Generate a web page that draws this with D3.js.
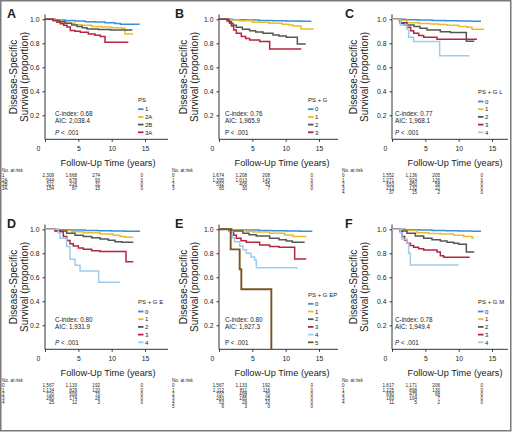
<!DOCTYPE html>
<html><head><meta charset="utf-8">
<script src="https://cdn.jsdelivr.net/npm/d3@7"></script>
<style>
body{margin:0;background:#fff}
svg{display:block}
text{font-family:"Liberation Sans",Arial,Helvetica,sans-serif;fill:#222}
</style>
</head><body>
<svg id="chart" width="514" height="433"></svg>
<script>
// ---------------- DATA ----------------
const panelLetters = ["A","B","C","D","E","F"];
const legendTitles = ["PS","PS + G","PS + G L","PS + G E","PS + G EP","PS + G M"];
const groupsA = ["1","2A","2B","3A"];
const groupsB = ["0","1","2","3"];
const groupsC = ["0","1","2","3","4"];
const groupsD = ["0","1","2","3","4"];
const groupsE = ["0","1","2","3","4","5"];
const groupsF = ["0","1","2","3","4"];
const cIndex = ["0.68","0.76","0.77","0.80","0.80","0.78"];
const aicValues = ["2,038.4","1,965.9","1,968.1","1,931.9","1,927.3","1,949.4"];
const xTicks = [0,5,10,15];
const yTicks = [0.2,0.4,0.6,0.8,1.0];
const riskTimes = [0,5,10,15];

const riskA = [[2309,1668,274,0],[944,678,93,0],[321,226,31,0],[154,87,15,0]];
const riskB = [[1674,1208,208,0],[1395,1013,143,0],[592,406,55,0],[65,30,7,0]];
const riskC = [[1552,1136,205,0],[1271,924,126,0],[653,450,58,0],[213,132,22,0],[37,15,2,0]];
const riskD = [[1567,1133,192,0],[1134,829,120,0],[720,509,70,0],[280,174,28,0],[25,12,3,0]];
const riskE = [[1567,1133,192,0],[1112,811,116,0],[707,498,70,0],[283,185,25,0],[53,29,10,0],[6,3,0,0]];
const riskF = [[1617,1171,206,0],[1225,898,130,0],[690,479,68,0],[183,104,7,0],[11,5,2,0]];

// survival curves: [years, proportion]
const curveA1  = [[0,1],[1.5,0.995],[3,0.99],[4.5,0.985],[6,0.98],[7.5,0.977],[9,0.972],[10.5,0.965],[11.3,0.958],[14.2,0.958]];
const curveA2A = [[0,1],[1.5,0.99],[2.5,0.98],[3.5,0.968],[4.5,0.955],[5.5,0.95],[7,0.94],[8.5,0.935],[10,0.93],[11.5,0.925],[12,0.878],[13.2,0.878]];
const curveA2B = [[0,1],[1.2,0.99],[2.2,0.98],[3,0.968],[4,0.952],[4.8,0.94],[5.6,0.93],[6.3,0.92],[8,0.915],[9.8,0.91],[13.1,0.91]];
const curveA3A = [[0,1],[1.2,0.99],[1.8,0.975],[2.3,0.962],[2.8,0.95],[3.3,0.935],[3.8,0.906],[4.5,0.9],[5.3,0.892],[6.5,0.878],[7.5,0.868],[8.3,0.856],[9,0.808],[12.5,0.808]];

const curveB0 = [[0,1],[2,0.997],[4,0.994],[6,0.991],[8,0.988],[10,0.986],[12,0.984],[13.85,0.984]];
const curveB1 = [[0,1],[1.5,0.995],[3,0.988],[5,0.975],[7.5,0.967],[9.5,0.958],[10.5,0.952],[11.1,0.944],[12.3,0.92],[14.2,0.92]];
const curveB2 = [[0,1],[1.2,0.985],[1.6,0.967],[2.1,0.95],[2.6,0.933],[3.5,0.918],[4.6,0.905],[5.5,0.895],[6.6,0.883],[8.1,0.87],[9,0.86],[10.1,0.85],[11.75,0.794],[13,0.794]];
const curveB3 = [[0,1],[1.5,0.98],[1.85,0.944],[2.2,0.91],[2.6,0.883],[3.35,0.856],[4,0.84],[4.6,0.828],[6.1,0.814],[7.6,0.753],[12.35,0.753]];

const curveC0 = [[0,1],[2,0.997],[4,0.994],[6,0.991],[8,0.988],[10,0.986],[12,0.984],[13.35,0.984]];
const curveC1 = [[0,1],[1,0.99],[2.25,0.972],[4,0.966],[5.75,0.961],[7,0.956],[8.25,0.95],[10,0.94],[11.25,0.933],[12,0.917],[13.85,0.917]];
const curveC2 = [[0,1],[1.25,0.972],[2.25,0.953],[3.3,0.94],[4.2,0.925],[5.25,0.911],[7.25,0.897],[8.75,0.889],[11.15,0.817],[12.35,0.817]];
const curveC3 = [[0,1],[1.25,0.967],[1.8,0.95],[2.25,0.933],[2.8,0.905],[3.25,0.883],[4,0.865],[4.75,0.85],[6.75,0.833],[12.75,0.833]];
const curveC4 = [[0,1],[1.25,0.953],[2.25,0.917],[2.5,0.85],[3.25,0.814],[7.15,0.697],[11.65,0.697]];

const curveD0 = [[0,1],[2,0.997],[4,0.994],[6,0.991],[8,0.988],[10,0.986],[12,0.984],[14.25,0.984]];
const curveD1 = [[0,1],[2,0.99],[4,0.98],[5.75,0.972],[8.25,0.961],[10.25,0.95],[11.25,0.939],[12,0.933],[13.25,0.933]];
const curveD2 = [[0,1],[1.5,0.985],[3.25,0.967],[4.5,0.95],[5.75,0.939],[7,0.93],[8.25,0.92],[9.5,0.908],[10.5,0.897],[11.5,0.892],[13.25,0.892]];
const curveD3 = [[0,1],[1.5,0.99],[2.25,0.98],[2.75,0.939],[3.25,0.906],[3.75,0.88],[4.25,0.861],[5,0.845],[5.75,0.833],[7,0.822],[8.25,0.814],[12.15,0.73],[13.25,0.73]];
const curveD4 = [[0,1],[2,0.972],[2.25,0.925],[3.25,0.856],[3.75,0.75],[4.5,0.7],[5.25,0.653],[8.05,0.558],[11.25,0.558]];

const curveE0 = [[0,1],[2,0.997],[4,0.994],[6,0.991],[8,0.988],[10,0.986],[12,0.984],[14,0.984]];
const curveE1 = [[0,1],[2,0.992],[4,0.983],[5.1,0.978],[7.6,0.967],[9.85,0.953],[11.1,0.939],[13.1,0.939]];
const curveE2 = [[0,1],[1.5,0.985],[3.6,0.967],[4.5,0.955],[5.6,0.944],[7.6,0.925],[9,0.912],[10.1,0.903],[11,0.892],[12.85,0.892]];
const curveE3 = [[0,1],[1.85,0.972],[2.2,0.95],[2.6,0.925],[3.3,0.905],[4.1,0.892],[6.1,0.87],[7.6,0.856],[9,0.85],[11.35,0.753],[13.1,0.753]];
const curveE4 = [[0,1],[1.6,0.98],[2,0.93],[2.35,0.897],[3.1,0.861],[3.6,0.83],[4.1,0.8],[4.8,0.77],[5.35,0.744],[5.6,0.68],[11.85,0.68]];
const curveE5 = [[0,1],[1.75,0.833],[3.1,0.667],[3.35,0.5],[7.85,0]];

const curveF0 = [[0,1],[2,0.997],[4,0.994],[6,0.991],[8,0.988],[10,0.986],[12,0.984],[13.35,0.984]];
const curveF1 = [[0,1],[1.5,0.99],[3.75,0.972],[5.5,0.966],[7.25,0.961],[9.25,0.95],[10.75,0.939],[12,0.928],[12.3,0.928]];
const curveF2 = [[0,1],[1.2,0.985],[2.25,0.967],[3.5,0.945],[4.75,0.925],[6,0.912],[7.25,0.903],[8.25,0.893],[9.25,0.883],[10,0.875],[11.15,0.81],[12.35,0.81]];
const curveF3 = [[0,1],[1.25,0.98],[1.5,0.939],[1.9,0.91],[2.25,0.883],[2.75,0.865],[3.25,0.85],[4,0.838],[4.75,0.828],[6.75,0.81],[7.25,0.78],[7.75,0.767],[11.65,0.767]];
const curveF4 = [[0,1],[1.25,0.972],[1.5,0.917],[2.25,0.883],[2.5,0.8],[2.75,0.703],[10,0.703]];

// ---------------- ASSEMBLY ----------------
const panels = [
  {groups: groupsA, risk: riskA, curves: [curveA1, curveA2A, curveA2B, curveA3A]},
  {groups: groupsB, risk: riskB, curves: [curveB0, curveB1, curveB2, curveB3]},
  {groups: groupsC, risk: riskC, curves: [curveC0, curveC1, curveC2, curveC3, curveC4]},
  {groups: groupsD, risk: riskD, curves: [curveD0, curveD1, curveD2, curveD3, curveD4]},
  {groups: groupsE, risk: riskE, curves: [curveE0, curveE1, curveE2, curveE3, curveE4, curveE5]},
  {groups: groupsF, risk: riskF, curves: [curveF0, curveF1, curveF2, curveF3, curveF4]}
];

// ---------------- STYLE / LAYOUT ----------------
const colors = ["#3b8fd9","#e8bd2a","#555555","#b3263f","#9fcbef","#7a5522"];
const colX = [0,170,340];
const originX = [45,219,392];
const letterX = [7,175,345];
const rowH = 210;
const statsY = [[115.5,123,134.6],[115.5,123,134.6],[115.5,123,134.6],[111.6,119,134.6],[111.6,119,134.6],[111.6,119,134.6]];
const riskCols = [54,77,100,143];
const fmt = d3.format(",");

const svg = d3.select("#chart");
svg.append("rect").attr("x",0.75).attr("y",0.75).attr("width",510).attr("height",430)
  .attr("fill","#fff").attr("stroke","#7a7a7a").attr("stroke-width",1.5);

panels.forEach((p, i) => {
  const c = i % 3, r = Math.floor(i / 3);
  const cx = colX[c], ox = originX[c], ry = r * rowH;
  const x = d3.scaleLinear().domain([0,15]).range([ox, ox + 100]);
  const y = d3.scaleLinear().domain([0,1]).range([ry + 139.3, ry + 19.3]);
  const g = svg.append("g");

  // panel letter
  g.append("text").attr("x", letterX[c]).attr("y", ry + 17.5)
    .attr("font-size", 12.5).attr("font-weight", "bold").attr("fill","#111").text(panelLetters[i]);

  // y axis title
  const yt = g.append("g").attr("font-size", 10).attr("text-anchor","middle");
  yt.append("text").attr("transform", `translate(${cx+17},${ry+77}) rotate(-90)`).text("Disease-Specific");
  yt.append("text").attr("transform", `translate(${cx+27.5},${ry+77}) rotate(-90)`).text("Survival (proportion)");

  // axes
  const xa = g.append("g").attr("transform", `translate(0,${y(0)})`)
    .call(d3.axisBottom(x).tickValues(xTicks).tickSize(2.5).tickSizeOuter(0).tickFormat(d3.format("d")));
  xa.select(".domain").remove();
  xa.selectAll(".tick line").attr("stroke","#333");
  xa.selectAll(".tick text").attr("font-size", 6.8).attr("fill","#222").attr("dy","0.9em").attr("font-family",null)
    .attr("dx", d => d === 0 ? -7 : 0);
  g.append("line").attr("x1", ox).attr("x2", cx + 168).attr("y1", y(0)).attr("y2", y(0))
    .attr("stroke","#333").attr("stroke-width",1);

  const ya = g.append("g").attr("transform", `translate(${ox},0)`)
    .call(d3.axisLeft(y).tickValues(yTicks).tickSize(2.5).tickSizeOuter(0).tickFormat(d3.format(".1f")));
  ya.select(".domain").remove();
  ya.selectAll(".tick line").attr("stroke","#333");
  ya.selectAll(".tick text").attr("font-size", 6.8).attr("fill","#222").attr("font-family",null);
  g.append("line").attr("x1", ox).attr("x2", ox).attr("y1", y(0)).attr("y2", y(1.04))
    .attr("stroke","#333").attr("stroke-width",1);

  // x axis title
  g.append("text").attr("x", ox + 63).attr("y", ry + 165.5).attr("text-anchor","middle")
    .attr("font-size", 9.2).text("Follow-Up Time (years)");

  // curves
  const line = d3.line().x(d => x(d[0])).y(d => y(d[1])).curve(d3.curveStepAfter);
  p.curves.forEach((cv, k) => {
    g.append("path").attr("d", line(cv)).attr("fill","none")
      .attr("stroke", colors[k]).attr("stroke-width", k === 5 ? 1.9 : 1.5);
  });

  // stats
  const st = g.append("g").attr("font-size", 6.3);
  st.append("text").attr("x", cx + 55).attr("y", ry + statsY[i][0]).text("C-index: " + cIndex[i]);
  st.append("text").attr("x", cx + 55).attr("y", ry + statsY[i][1]).text("AIC: " + aicValues[i]);
  const pt = st.append("text").attr("x", cx + 55).attr("y", ry + statsY[i][2]);
  pt.append("tspan").attr("font-style", (i === 1 || i === 4) ? "normal" : "italic").text("P");
  pt.append("tspan").text(" < .001");

  // legend
  const n = p.groups.length;
  const lg = g.append("g").attr("font-size", 6);
  const lastY = ry + 132.3, sp = 7.7;
  const firstY = lastY - (n - 1) * sp;
  lg.append("text").attr("x", cx + 138).attr("y", firstY - 9.5 + 2.2).text(legendTitles[i]);
  p.groups.forEach((gr, k) => {
    const yy = firstY + k * sp;
    lg.append("line").attr("x1", cx + 138).attr("x2", cx + 143.5).attr("y1", yy).attr("y2", yy)
      .attr("stroke", colors[k]).attr("stroke-width", 1.8);
    lg.append("text").attr("x", cx + 145).attr("y", yy + 2.2).text(gr);
  });

  // risk table
  const rt = g.append("g").attr("font-size", 4.6);
  rt.append("text").attr("x", cx + 2).attr("y", ry + 171.6).text("No. at risk");
  p.risk.forEach((row, k) => {
    const yy = ry + 177.4 + k * 4.2;
    rt.append("text").attr("x", cx + 2).attr("y", yy).text(p.groups[k]);
    row.forEach((v, j) => {
      rt.append("text").attr("x", cx + riskCols[j]).attr("y", yy).attr("text-anchor","end").text(fmt(v));
    });
  });
});
</script>
</body></html>
